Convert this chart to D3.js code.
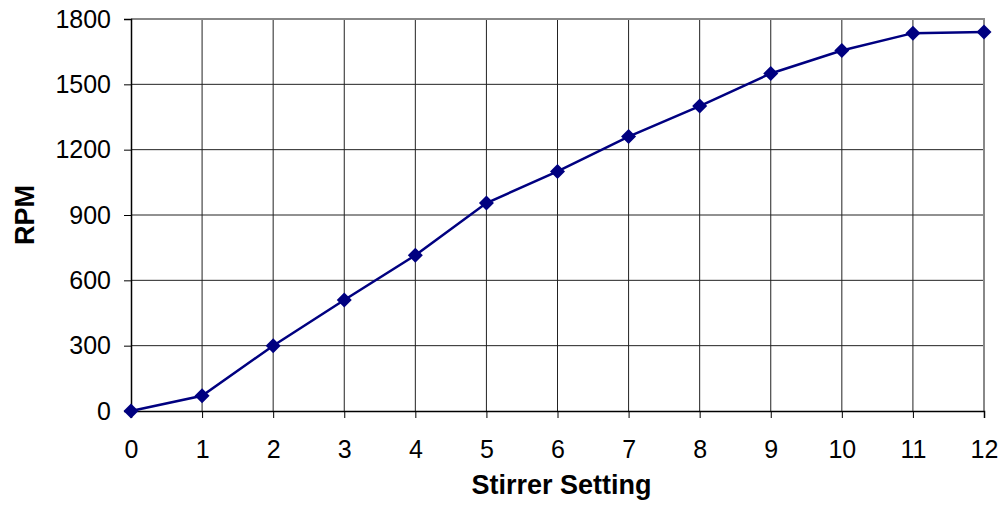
<!DOCTYPE html>
<html>
<head>
<meta charset="utf-8">
<script src="https://cdn.jsdelivr.net/npm/d3@7"></script>
<style>
  body { margin: 0; background: #fff; }
  svg text { font-family: "Liberation Sans", Arial, sans-serif; fill: #000; }
</style>
</head>
<body>
<div id="chart"></div>
<script>

//// DATA

// Stirrer settings (x)
var settings = [0, 1, 2, 3, 4, 5, 6, 7, 8, 9, 10, 11, 12];
// Measured RPM for each setting (y)
var rpmValues = [0, 70, 300, 510, 715, 955, 1100, 1260, 1400, 1550, 1655, 1735, 1740];
// Tick labels
var yTicks = [0, 300, 600, 900, 1200, 1500, 1800];
var xTicks = [0, 1, 2, 3, 4, 5, 6, 7, 8, 9, 10, 11, 12];


//// MAIN

var width = 1006, height = 506;
var margin = { top: 19, right: 22, bottom: 95, left: 131 };
var plotW = width - margin.left - margin.right;
var plotH = height - margin.top - margin.bottom;
var tickFont = 25;
var titleFont = 27;

var svg = d3.select("#chart").append("svg")
    .attr("width", width)
    .attr("height", height);

var g = svg.append("g")
    .attr("transform", "translate(" + margin.left + "," + margin.top + ")");

var x = d3.scaleLinear().domain([0, 12]).range([0, plotW]);
var y = d3.scaleLinear().domain([0, 1800]).range([plotH, 0]);

// Vertical grid lines
g.selectAll(".vgrid")
    .data(xTicks.slice(1, -1))
    .enter().append("line")
    .attr("x1", function(d) { return x(d); })
    .attr("x2", function(d) { return x(d); })
    .attr("y1", 0).attr("y2", plotH)
    .attr("stroke", "#222").attr("stroke-width", 1);

// Horizontal grid lines
g.selectAll(".hgrid")
    .data(yTicks.slice(1, -1))
    .enter().append("line")
    .attr("x1", 0).attr("x2", plotW)
    .attr("y1", function(d) { return y(d); })
    .attr("y2", function(d) { return y(d); })
    .attr("stroke", "#222").attr("stroke-width", 1);

// Top and right border (gray)
g.append("path")
    .attr("d", "M0," + y(1800) + "H" + x(12) + "V" + y(0))
    .attr("fill", "none")
    .attr("stroke", "#888").attr("stroke-width", 2);

// Y axis
var yAxis = g.append("g")
    .call(d3.axisLeft(y).tickValues(yTicks).tickFormat(d3.format("d")).tickSize(7).tickPadding(13));
yAxis.select(".domain").attr("stroke", "#000").attr("stroke-width", 1.5);
yAxis.selectAll(".tick line").attr("stroke", "#000");
yAxis.selectAll("text").attr("font-size", tickFont).attr("font-family", "Liberation Sans, Arial, sans-serif");

// X axis
var xAxis = g.append("g")
    .attr("transform", "translate(0," + plotH + ")")
    .call(d3.axisBottom(x).tickValues(xTicks).tickFormat(d3.format("d")).tickSize(7).tickPadding(22));
xAxis.select(".domain").attr("stroke", "#000").attr("stroke-width", 1.5);
xAxis.selectAll(".tick line").attr("stroke", "#000");
xAxis.selectAll("text").attr("font-size", tickFont).attr("font-family", "Liberation Sans, Arial, sans-serif");

// Axis titles
svg.append("text")
    .attr("x", margin.left + plotW / 2 + 4)
    .attr("y", 494)
    .attr("text-anchor", "middle")
    .attr("font-size", titleFont).attr("font-weight", "bold")
    .text("Stirrer Setting");

svg.append("text")
    .attr("transform", "translate(34," + (margin.top + plotH / 2) + ") rotate(-90)")
    .attr("text-anchor", "middle")
    .attr("font-size", titleFont).attr("font-weight", "bold")
    .text("RPM");

// Series line
var line = d3.line()
    .x(function(d, i) { return x(settings[i]); })
    .y(function(d) { return y(d); });

g.append("path")
    .datum(rpmValues)
    .attr("d", line)
    .attr("fill", "none")
    .attr("stroke", "#000080")
    .attr("stroke-width", 2.5);

// Diamond markers
g.selectAll(".marker")
    .data(rpmValues)
    .enter().append("path")
    .attr("d", "M0,-7.5L7.5,0L0,7.5L-7.5,0Z")
    .attr("transform", function(d, i) { return "translate(" + x(settings[i]) + "," + y(d) + ")"; })
    .attr("fill", "#000080");

</script>
</body>
</html>
